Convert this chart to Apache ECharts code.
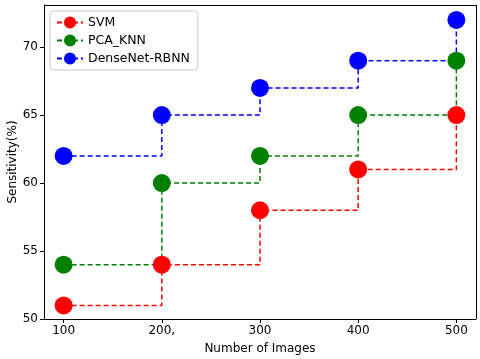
<!DOCTYPE html>
<html>
<head>
<meta charset="utf-8">
<script src="https://cdn.jsdelivr.net/npm/echarts@6/dist/echarts.min.js"></script>
<style>
  html, body { margin: 0; padding: 0; background: #fff; }
  #chart { width: 480px; height: 359px; }
</style>
</head>
<body>
<div id="chart"></div>
<script>
// image counts on the x axis
var images = [100, 200, 300, 400, 500]
var xTickLabels = ['100', '200,', '300', '400', '500']
// sensitivity (%) per method
var svm = [51, 54, 58, 61, 65]
var pcaKnn = [54, 60, 62, 65, 69]
var denseNet = [62, 65, 67, 69, 72]

function pairs (vals) {
  return images.map(function (x, i) { return [x, vals[i]] })
}

function stepSeries (name, color, vals) {
  return {
    name: name,
    type: 'line',
    step: 'end',
    data: pairs(vals),
    symbol: 'circle',
    symbolSize: 18,
    itemStyle: { color: color },
    lineStyle: { color: color, width: 1.5, type: [5, 3] },
    animation: false
  }
}

var chart = echarts.init(document.getElementById('chart'))
chart.setOption({
  textStyle: { fontFamily: 'DejaVu Sans' },
  grid: { left: 44, right: 4, top: 5, bottom: 40, containLabel: false, outerBoundsMode: 'none' },
  legend: {
    orient: 'vertical',
    left: 50,
    top: 11,
    padding: [5, 8, 5, 6],
    itemGap: 5,
    itemWidth: 26,
    itemHeight: 15,
    borderColor: '#cccccc',
    borderWidth: 1,
    borderRadius: 3,
    textStyle: { fontSize: 12.5, color: '#000' },
    data: ['SVM', 'PCA_KNN', 'DenseNet-RBNN']
  },
  xAxis: {
    type: 'value',
    min: 80,
    max: 520,
    name: 'Number of Images',
    nameLocation: 'middle',
    nameGap: 24,
    nameTextStyle: { fontSize: 12, color: '#000' },
    splitLine: { show: false },
    axisLine: { lineStyle: { color: '#000' } },
    axisTick: { length: 4, customValues: images, lineStyle: { color: '#000' } },
    axisLabel: {
      fontSize: 12, color: '#000', margin: 6,
      customValues: images,
      formatter: function (v) { return xTickLabels[images.indexOf(v)] }
    }
  },
  yAxis: {
    type: 'value',
    min: 50,
    max: 73.1,
    interval: 5,
    name: 'Sensitivity(%)',
    nameLocation: 'middle',
    nameGap: 25,
    nameMoveOverlap: false,
    nameTextStyle: { fontSize: 12, color: '#000' },
    splitLine: { show: false },
    axisLine: { show: true, lineStyle: { color: '#000' } },
    axisTick: { show: true, length: 4, lineStyle: { color: '#000' } },
    axisLabel: {
      fontSize: 12, color: '#000', margin: 6,
      showMaxLabel: false
    }
  },
  series: [
    stepSeries('SVM', '#ff0000', svm),
    stepSeries('PCA_KNN', '#008000', pcaKnn),
    stepSeries('DenseNet-RBNN', '#0000ff', denseNet),
    {
      // closes the frame on top and right like the reference box
      type: 'line', data: [], silent: true,
      markLine: {
        symbol: 'none', silent: true, animation: false, label: { show: false },
        lineStyle: { color: '#000', type: 'solid', width: 1 },
        data: [[{ coord: [80, 73.1] }, { coord: [520, 73.1] }], [{ coord: [520, 50] }, { coord: [520, 73.1] }]]
      }
    }
  ]
})
</script>
</body>
</html>
